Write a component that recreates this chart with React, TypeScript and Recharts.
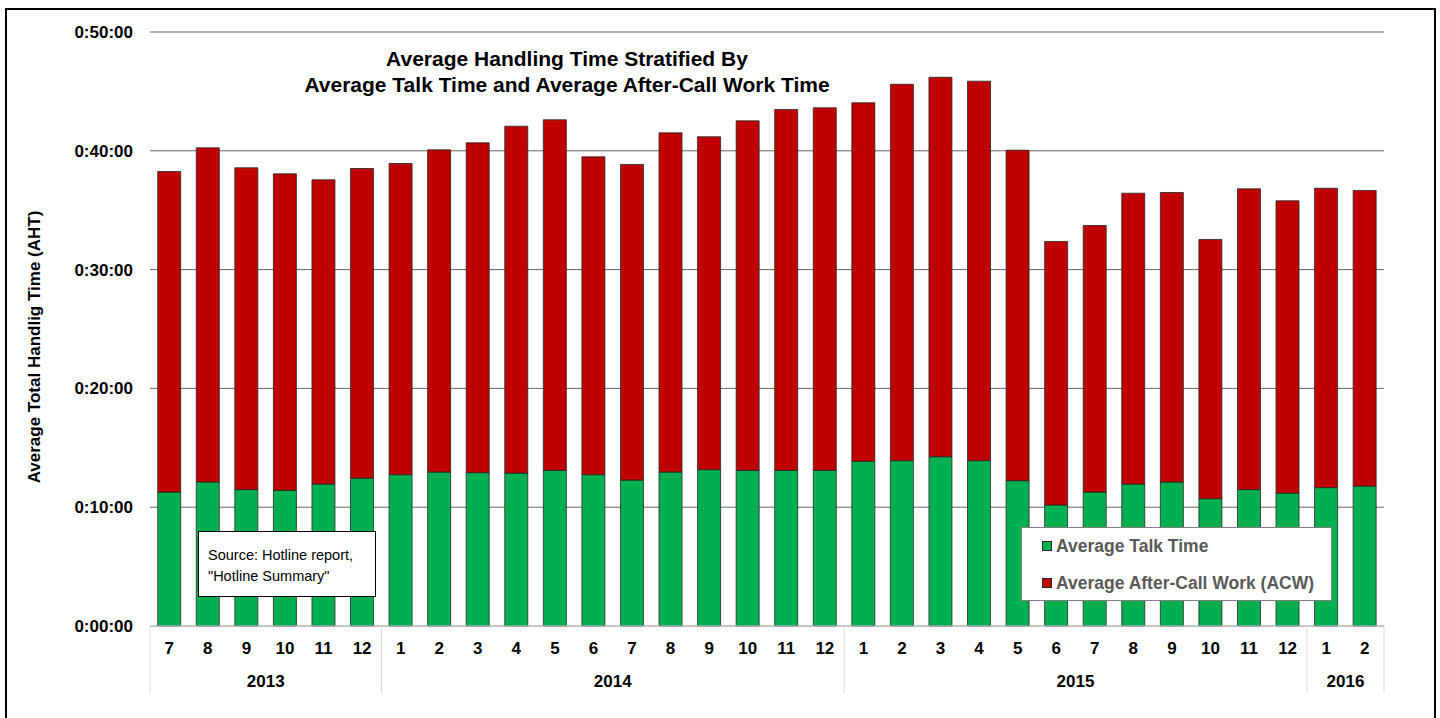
import React from 'react';
import { BarChart, Bar, XAxis, YAxis, CartesianGrid, Legend } from 'recharts';

const monthLabels = [
  '7', '8', '9', '10', '11', '12',
  '1', '2', '3', '4', '5', '6', '7', '8', '9', '10', '11', '12',
  '1', '2', '3', '4', '5', '6', '7', '8', '9', '10', '11', '12',
  '1', '2',
];

const yearLabels = [
  ...Array(6).fill('2013'),
  ...Array(12).fill('2014'),
  ...Array(12).fill('2015'),
  ...Array(2).fill('2016'),
];

// minutes
const talkTime = [
  11.27, 12.12, 11.48, 11.42, 11.95, 12.45,
  12.74, 12.96, 12.91, 12.87, 13.1, 12.74, 12.28, 12.96, 13.16, 13.1, 13.1, 13.1,
  13.86, 13.92, 14.25, 13.92, 12.23, 10.18, 11.27, 11.95, 12.12, 10.72, 11.48, 11.19,
  11.65, 11.78,
];

const acwTime = [
  26.99, 28.13, 27.09, 26.64, 25.61, 26.06,
  26.19, 27.12, 27.76, 29.2, 29.51, 26.75, 26.57, 28.55, 28.02, 29.42, 30.37, 30.52,
  30.18, 31.68, 31.94, 31.94, 27.82, 22.19, 22.44, 24.48, 24.37, 21.82, 25.32, 24.6,
  25.2, 24.88,
];

const yTicks = [0, 10, 20, 30, 40, 50];
const legendOrder = ['talk', 'acw'];

const data = monthLabels.map((m, i) => ({
  month: m,
  year: yearLabels[i],
  talk: talkTime[i],
  acw: acwTime[i],
}));

const W = 1440;
const H = 718;
const PLOT_LEFT = 150;
const PLOT_RIGHT = 1384;
const STEP = (PLOT_RIGHT - PLOT_LEFT) / data.length;

const FONT = '"Liberation Sans", Arial, sans-serif';
const GREEN = '#00B050';
const RED = '#C00000';

const fmtTime = (v: number) => `0:${String(v).padStart(2, '0')}:00`;

const MonthTick = ({ x, y, payload }: any) => (
  <text x={x} y={y} dy={28} textAnchor="middle" fontFamily={FONT} fontWeight="bold" fontSize={17} fill="#000">
    {payload.value}
  </text>
);

const YearTick = ({ x, y, index }: any) => {
  const yr = yearLabels[index];
  const isStart = index === 0 || yearLabels[index - 1] !== yr;
  const isLast = index === yearLabels.length - 1;
  const count = yearLabels.filter((v) => v === yr).length;
  return (
    <g>
      {isStart && (
        <>
          <line x1={x - STEP / 2} x2={x - STEP / 2} y1={y - 30} y2={y + 37} stroke="#d9d9d9" />
          <text
            x={x + ((count - 1) / 2) * STEP}
            y={y}
            dy={31}
            textAnchor="middle"
            fontFamily={FONT}
            fontWeight="bold"
            fontSize={17}
            fill="#000"
          >
            {yr}
          </text>
        </>
      )}
      {isLast && <line x1={x + STEP / 2} x2={x + STEP / 2} y1={y - 30} y2={y + 37} stroke="#d9d9d9" />}
    </g>
  );
};

const LegendBox = ({ payload }: any) => {
  const items = [...(payload || [])].sort(
    (a: any, b: any) => legendOrder.indexOf(a.dataKey) - legendOrder.indexOf(b.dataKey)
  );
  return (
    <div
      style={{
        width: 311,
        height: 74,
        boxSizing: 'border-box',
        border: '1px solid #7f7f7f',
        background: '#fff',
        position: 'relative',
        fontFamily: FONT,
      }}
    >
      {items.map((p: any, i: number) => (
        <div
          key={p.value}
          style={{
            position: 'absolute',
            left: 20,
            top: 8 + i * 37,
            height: 20,
            display: 'flex',
            alignItems: 'center',
            whiteSpace: 'nowrap',
          }}
        >
          <span
            style={{
              width: 10,
              height: 10,
              boxSizing: 'border-box',
              background: p.color,
              border: '1px solid #262626',
              marginRight: 4,
            }}
          />
          <span style={{ fontSize: 17.5, fontWeight: 'bold', color: '#595959' }}>{p.value}</span>
        </div>
      ))}
    </div>
  );
};

export default function App() {
  return (
    <div
      style={{
        position: 'absolute',
        left: 0,
        top: 0,
        width: W,
        height: H,
        overflow: 'hidden',
        background: '#fff',
        fontFamily: FONT,
      }}
    >
      <div
        style={{
          position: 'absolute',
          left: 5,
          top: 8,
          width: 1431,
          height: 800,
          border: '2px solid #000',
          boxSizing: 'border-box',
        }}
      />
      <BarChart
        width={W}
        height={H}
        data={data}
        margin={{ top: 32, right: W - PLOT_RIGHT, bottom: 22, left: 20 }}
        barCategoryGap="20%"
      >
        <CartesianGrid vertical={false} stroke="#666" />
        <XAxis
          dataKey="month"
          interval={0}
          height={30}
          tickLine={false}
          tickSize={0}
          tickMargin={0}
          axisLine={{ stroke: '#d9d9d9' }}
          tick={<MonthTick />}
        />
        <XAxis
          xAxisId="year"
          dataKey="year"
          interval={0}
          height={40}
          tickLine={false}
          tickSize={0}
          tickMargin={0}
          axisLine={false}
          tick={<YearTick />}
        />
        <YAxis
          width={PLOT_LEFT - 20}
          domain={[0, 50]}
          ticks={yTicks}
          tickFormatter={fmtTime}
          axisLine={false}
          tickLine={false}
          tickSize={0}
          tickMargin={17}
          tick={{ fontFamily: FONT, fontWeight: 'bold', fontSize: 17, fill: '#000' }}
        />
        <Legend
          layout="vertical"
          align="center"
          verticalAlign="middle"
          content={<LegendBox />}
          wrapperStyle={{ left: 1021, top: 527, width: 311, height: 74 }}
        />
        <Bar
          dataKey="talk"
          name="Average Talk Time"
          stackId="aht"
          fill={GREEN}
          stroke="#262626"
          strokeWidth={0.8}
          isAnimationActive={false}
        />
        <Bar
          dataKey="acw"
          name="Average After-Call Work (ACW)"
          stackId="aht"
          fill={RED}
          stroke="#262626"
          strokeWidth={0.8}
          isAnimationActive={false}
        />
      </BarChart>

      <div
        style={{
          position: 'absolute',
          left: 267,
          top: 46,
          width: 600,
          textAlign: 'center',
          fontSize: 21,
          fontWeight: 'bold',
          lineHeight: '26px',
          color: '#000',
        }}
      >
        Average Handling Time Stratified By
        <br />
        Average Talk Time and Average After-Call Work Time
      </div>

      <div
        style={{
          position: 'absolute',
          left: 35,
          top: 347,
          transform: 'translate(-50%, -50%) rotate(-90deg)',
          whiteSpace: 'nowrap',
          fontSize: 17,
          fontWeight: 'bold',
          color: '#000',
        }}
      >
        Average Total Handlig Time (AHT)
      </div>

      <div
        style={{
          position: 'absolute',
          left: 198,
          top: 531,
          width: 178,
          height: 66,
          boxSizing: 'border-box',
          border: '1.5px solid #000',
          background: '#fff',
          padding: '13px 0 0 9px',
          fontSize: 14.5,
          lineHeight: '21px',
          color: '#000',
        }}
      >
        Source: Hotline report,
        <br />
        "Hotline Summary"
      </div>
    </div>
  );
}
